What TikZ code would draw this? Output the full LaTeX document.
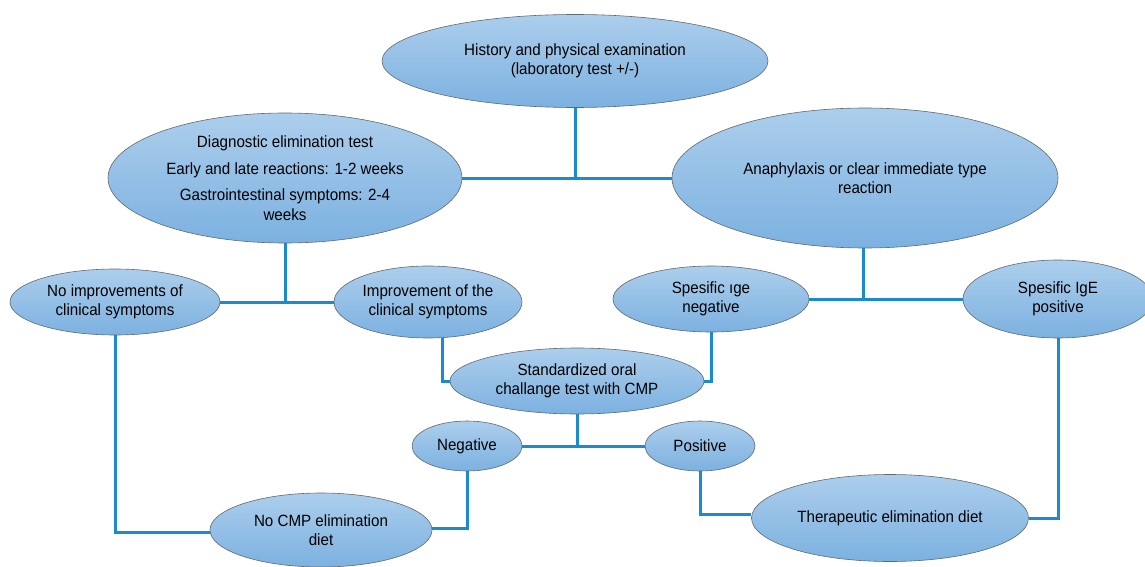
\documentclass[tikz,border=0pt]{standalone}
\usepackage{fontspec}
\setmainfont[FakeStretch=0.93]{Liberation Sans}
\usetikzlibrary{shapes.geometric,backgrounds}
\definecolor{ftop}{RGB}{172,206,236}
\definecolor{fbot}{RGB}{124,177,224}
\definecolor{edgec}{RGB}{95,105,115}
\definecolor{linec}{RGB}{26,140,204}
\begin{document}
\begin{tikzpicture}[x=1pt,y=-1pt,
  bub/.style={ellipse, draw=edgec, line width=0.6pt, top color=ftop, bottom color=fbot,
    inner sep=0pt, align=center, font=\fontsize{16.3}{19.5}\selectfont, text=black},
  conn/.style={draw=linec, line width=3pt}]
\useasboundingbox (0,0) rectangle (1145,567);
\node[bub, minimum width=386, minimum height=93] (hist) at (575,61)
  {History and physical examination\\(laboratory test +/-)};
\node[bub, minimum width=354, minimum height=130] (diag) at (285,178)
  {Diagnostic elimination test\\[7pt]Early and late reactions: 1-2 weeks\\[7pt]Gastrointestinal symptoms: 2-4\\weeks};
\node[bub, minimum width=386, minimum height=140] (ana) at (865,178)
  {Anaphylaxis or clear immediate type\\reaction};
\node[bub, minimum width=210, minimum height=66] (noimp) at (115,302)
  {No improvements of\\clinical symptoms};
\node[bub, minimum width=188, minimum height=72] (imp) at (428,302)
  {Improvement of the\\clinical symptoms};
\node[bub, minimum width=196, minimum height=66] (sneg) at (711,299)
  {Spesific ıge\\negative};
\node[bub, minimum width=190, minimum height=78] (spos) at (1058,299)
  {Spesific IgE\\positive};
\node[bub, minimum width=254, minimum height=66] (std) at (577,381)
  {Standardized oral\\challange test with CMP};
\node[bub, minimum width=110, minimum height=50] (neg) at (467,446)
  {Negative};
\node[bub, minimum width=110, minimum height=50] (pos) at (700,446)
  {Positive};
\node[bub, minimum width=222, minimum height=74] (nocmp) at (321,530)
  {No CMP elimination\\diet};
\node[bub, minimum width=277, minimum height=87] (ther) at (890,518)
  {Therapeutic elimination diet};
\begin{pgfonlayer}{background}
\path[conn] (hist.south) -- (hist.south |- diag.east);
\path[conn] (diag.east) -- (ana.west);
\path[conn] (diag.south) -- (diag.south |- noimp.east);
\path[conn] (noimp.east) -- (imp.west);
\path[conn] ([xshift=-2]ana.south) -- ([xshift=-2]ana.south |- sneg.east);
\path[conn] (sneg.east) -- (spos.west);
\path[conn] ([xshift=14]imp.south) |- (std.west);
\path[conn] (sneg.south) |- (std.east);
\path[conn] (std.south) -- (std.south |- neg.east);
\path[conn] (neg.east) -- (pos.west);
\path[conn] (noimp.south) |- ([yshift=-2]nocmp.west);
\path[conn] (neg.south) |- ([yshift=2]nocmp.east);
\path[conn] (pos.south) |- ([yshift=4]ther.west);
\path[conn] (spos.south) |- (ther.east);
\end{pgfonlayer}
\end{tikzpicture}
\end{document}
